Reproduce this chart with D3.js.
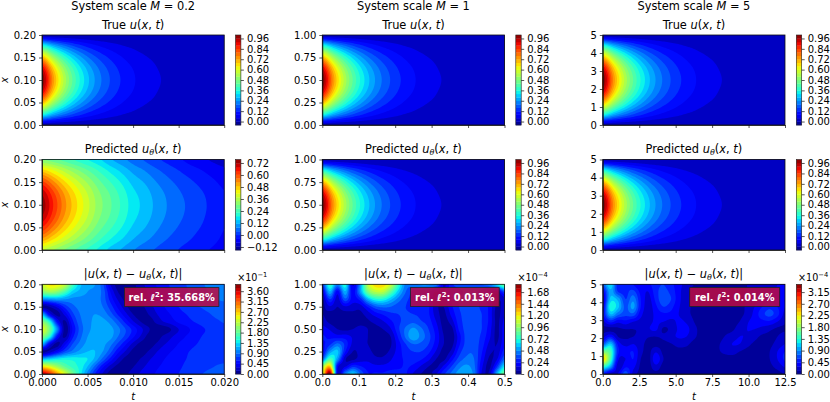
<!DOCTYPE html>
<html>
<head>
<meta charset="utf-8">
<script src="https://cdnjs.cloudflare.com/ajax/libs/d3/7.8.5/d3.min.js"></script>
<style>
body { margin: 0; background: #fff; }
text { font-family: "DejaVu Sans", sans-serif; fill: #000; }
</style>
</head>
<body>
<div id="chart"></div>
<script>
// values, rows run from the top of a panel (x max) to the bottom (x = 0),
// columns from t = 0 to t max
const trueGrid = [
  [0,0,0,0,0,0,0,0,0,0,0,0,0,0,0,0,0],
  [.383,.281,.207,.152,.112,.082,.061,.044,.033,.024,.018,.013,.01,.007,.005,.004,.003],
  [.707,.52,.382,.281,.206,.151,.112,.082,.06,.044,.033,.024,.018,.013,.009,.007,.005],
  [.924,.679,.499,.367,.27,.198,.146,.107,.079,.058,.042,.031,.023,.017,.012,.009,.007],
  [1,.735,.54,.397,.292,.214,.158,.116,.085,.063,.046,.034,.025,.018,.013,.01,.007],
  [.924,.679,.499,.367,.27,.198,.146,.107,.079,.058,.042,.031,.023,.017,.012,.009,.007],
  [.707,.52,.382,.281,.206,.151,.112,.082,.06,.044,.033,.024,.018,.013,.009,.007,.005],
  [.383,.281,.207,.152,.112,.082,.061,.044,.033,.024,.018,.013,.01,.007,.005,.004,.003],
  [0,0,0,0,0,0,0,0,0,0,0,0,0,0,0,0,0]
];
const predGrid = [
  [.30,.28,.25,.22,.19,.16,.12,.09,.06,.035,.01,-.01,-.03,-.05,-.065,-.08,-.09],
  [.476,.424,.366,.316,.27,.224,.18,.142,.104,.077,.048,.024,.002,-.018,-.035,-.052,-.066],
  [.617,.539,.459,.393,.334,.275,.228,.184,.139,.111,.078,.051,.028,.008,-.011,-.03,-.047],
  [.709,.615,.52,.443,.376,.309,.26,.211,.162,.133,.098,.069,.044,.024,.005,-.015,-.034],
  [.74,.64,.54,.46,.39,.32,.27,.22,.17,.14,.105,.075,.05,.03,.01,-.01,-.03],
  [.715,.619,.523,.446,.378,.31,.261,.212,.164,.134,.1,.071,.047,.027,.007,-.012,-.031],
  [.639,.556,.473,.404,.342,.281,.234,.189,.145,.116,.085,.058,.036,.017,-.001,-.018,-.036],
  [.524,.46,.396,.34,.288,.236,.192,.154,.116,.089,.063,.039,.02,.003,-.014,-.028,-.042],
  [.38,.34,.30,.26,.22,.18,.14,.11,.08,.055,.035,.015,0,-.015,-.03,-.04,-.05]
];
// error grids are in units of the colorbar offset (1e-1 and 1e-4)
const errGridA = [
  [2.3,2.6,2.55,2.3,1.7,1.25,1.1,1.05,.8,.3,.08,.05,.1,.25,.35,.45,.55,.62,.7,.75,.82,.88,.93,.97,1.0],
  [2.0,2.1,2.0,1.7,1.3,1.15,1.05,1.0,.85,.45,.15,.05,.1,.2,.32,.42,.5,.6,.67,.73,.8,.85,.9,.93,.97],
  [1.0,1.05,1.1,1.05,1.0,1.0,1.0,.98,.85,.55,.28,.1,.05,.15,.28,.38,.48,.57,.64,.7,.76,.82,.86,.9,.92],
  [.08,.15,.35,.65,.85,.95,1.0,1.0,.9,.68,.42,.2,.05,.1,.22,.34,.44,.52,.6,.66,.72,.76,.8,.83,.85],
  [1.2,.4,.1,.35,.7,.9,1.0,1.05,1.0,.82,.58,.35,.15,.05,.15,.28,.38,.46,.55,.6,.66,.7,.74,.78,.8],
  [2.0,1.5,.5,.12,.55,.85,1.0,1.08,1.1,1.0,.8,.55,.32,.15,.06,.18,.3,.38,.48,.54,.6,.65,.7,.73,.76],
  [2.4,1.9,1.0,.08,.45,.8,1.0,1.1,1.15,1.1,.95,.75,.55,.35,.18,.05,.05,.15,.3,.4,.5,.57,.63,.68,.72],
  [2.0,1.5,.5,.12,.55,.85,1.05,1.12,1.15,1.1,.9,.7,.48,.28,.1,.06,.18,.28,.38,.46,.54,.6,.65,.7,.73],
  [1.2,.4,.1,.4,.75,.95,1.1,1.15,1.1,.95,.72,.48,.25,.1,.06,.16,.28,.36,.46,.52,.58,.63,.68,.72,.74],
  [.08,.2,.45,.75,.95,1.1,1.2,1.2,1.05,.8,.5,.28,.1,.06,.16,.28,.38,.45,.52,.58,.63,.67,.7,.72,.74],
  [1.2,1.3,1.4,1.45,1.45,1.4,1.35,1.15,.85,.55,.28,.1,.07,.16,.27,.36,.44,.5,.56,.6,.64,.67,.7,.72,.72],
  [2.6,2.4,2.1,1.8,1.6,1.45,1.2,.85,.5,.25,.1,.06,.14,.25,.34,.42,.48,.54,.58,.62,.65,.68,.72,.76,.78],
  [3.7,3.4,2.9,2.4,1.9,1.45,1.0,.6,.28,.08,.05,.12,.22,.32,.4,.46,.52,.56,.6,.64,.68,.74,.8,.85,.85]
];
const errGridB = [
  [.3,.75,.45,.7,.15,.5,1.05,1.25,1.25,1.1,.75,.45,.45,.5,.5,.45,.15,.3,.35,.35,.35,.4,.45,.65,.9],
  [.15,.55,.2,.55,.2,.5,.9,1.05,1.05,.85,.6,.4,.3,.28,.25,.15,.15,.25,.3,.33,.33,.3,.2,.12,.35],
  [.05,.32,.12,.38,.2,.28,.55,.7,.7,.58,.45,.34,.3,.3,.25,.12,.12,.25,.32,.35,.35,.3,.2,.08,.12],
  [.05,.15,.08,.15,.12,.12,.25,.38,.42,.4,.35,.32,.3,.3,.25,.1,.08,.22,.32,.35,.35,.3,.22,.06,.12],
  [.08,.05,.05,.05,.06,.06,.12,.2,.25,.3,.32,.33,.32,.3,.25,.12,.06,.18,.3,.35,.35,.32,.22,.05,.15],
  [.12,.06,.03,.03,.05,.06,.07,.1,.15,.22,.3,.35,.38,.33,.28,.16,.05,.12,.28,.35,.35,.32,.22,.06,.18],
  [.2,.15,.08,.06,.08,.1,.08,.06,.08,.15,.3,.42,.5,.42,.32,.2,.06,.05,.25,.35,.36,.32,.2,.06,.2],
  [.25,.22,.2,.2,.15,.12,.08,.05,.04,.08,.25,.42,.55,.45,.35,.22,.08,.03,.2,.35,.36,.3,.18,.06,.2],
  [.22,.3,.42,.3,.14,.1,.08,.05,.03,.07,.2,.32,.4,.38,.32,.2,.08,.05,.22,.35,.36,.28,.14,.08,.22],
  [.2,.5,.58,.25,.08,.1,.1,.06,.05,.1,.2,.28,.32,.32,.26,.15,.05,.1,.28,.38,.38,.25,.1,.1,.28],
  [.4,.8,.5,.1,.06,.12,.14,.1,.1,.15,.22,.25,.28,.25,.18,.08,.06,.2,.35,.42,.4,.22,.07,.15,.4],
  [1.0,1.3,.2,.15,.3,.25,.2,.18,.18,.2,.22,.25,.22,.15,.08,.06,.18,.32,.45,.5,.42,.18,.06,.3,.65],
  [1.1,1.85,.15,.45,.6,.4,.25,.25,.25,.28,.28,.25,.15,.08,.05,.15,.3,.42,.52,.55,.45,.15,.1,.55,.9]
];
const errGridC = [
  [.7,1.2,.5,.6,.45,.3,.4,.55,.6,.5,.35,.25,.15,.12,.12,.12,.1,.1,.1,.15,.2,.2,.25,.3,.35],
  [.35,1.0,.6,.55,.65,.4,.3,.55,.65,.55,.35,.2,.1,.1,.08,.1,.1,.1,.12,.15,.2,.25,.3,.32,.35],
  [.2,1.1,1.0,.6,.85,.45,.25,.5,.72,.6,.35,.2,.12,.08,.08,.08,.08,.08,.1,.15,.22,.35,.4,.35,.3],
  [.3,1.3,1.1,.7,.95,.45,.22,.42,.6,.5,.32,.2,.12,.08,.08,.08,.08,.08,.1,.18,.3,.45,.55,.45,.3],
  [.4,1.05,.8,.65,.7,.35,.22,.35,.42,.4,.3,.2,.12,.08,.08,.08,.08,.08,.1,.2,.35,.55,.65,.5,.25],
  [.25,.5,.35,.4,.3,.25,.25,.33,.3,.25,.33,.28,.15,.08,.08,.08,.08,.1,.15,.28,.35,.4,.42,.3,.18],
  [.1,.1,.12,.15,.15,.18,.28,.33,.12,.2,.32,.35,.2,.1,.08,.08,.1,.12,.22,.3,.3,.25,.18,.12,.12],
  [.25,.45,.15,.12,.15,.2,.16,.15,.18,.25,.32,.3,.18,.1,.08,.08,.15,.22,.3,.28,.2,.12,.12,.15,.25],
  [.7,1.1,.42,.25,.3,.2,.1,.1,.1,.14,.2,.18,.1,.08,.08,.12,.2,.3,.3,.2,.12,.1,.12,.2,.3],
  [1.7,1.5,.5,.4,.45,.2,.1,.28,.1,.08,.1,.1,.08,.08,.08,.12,.18,.22,.15,.1,.08,.1,.15,.3,.45],
  [2.4,1.5,.35,.3,.45,.15,.08,.42,.15,.08,.08,.08,.08,.08,.08,.08,.08,.08,.08,.08,.08,.1,.15,.3,.48],
  [1.4,1.0,.2,.42,.35,.12,.08,.25,.08,.08,.08,.08,.08,.08,.08,.08,.08,.08,.08,.08,.08,.1,.12,.2,.32],
  [.5,.2,.3,.7,.25,.1,.08,.1,.08,.08,.08,.08,.08,.08,.08,.08,.08,.08,.08,.08,.08,.08,.08,.1,.15]
];

// axis ranges and tick labels
const scales = ["0.2", "1", "5"];
const xMax = [0.2, 1, 5];
const tMax = [0.02, 0.5, 12.5];
const xTicks = [[0, .05, .1, .15, .2], [0, .25, .5, .75, 1], [0, 1, 2, 3, 4, 5]];
const tTicks = [[0, .005, .01, .015, .02], [0, .1, .2, .3, .4, .5], [0, 2.5, 5, 7.5, 10, 12.5]];
const xFormats = [".2f", ".2f", ".0f"];
const tFormats = [".3f", ".1f", ".1f"];

// contour levels [low, high, step] and colorbar ticks
const trueLevels = [-.04, 1.0, .04];
const trueTicks = [0, .12, .24, .36, .48, .6, .72, .84, .96];
const predLevels = [-.15, .755, .0377];
const predTicks = [-.12, 0, .12, .24, .36, .48, .6, .72];
const errLevelsA = [0, 3.9, .15];
const errTicksA = [0, .45, .9, 1.35, 1.8, 2.25, 2.7, 3.15, 3.6];
const errLevelsB = [0, 1.84, .08];
const errTicksB = [0, .24, .48, .72, .96, 1.2, 1.44, 1.68];
const errLevelsC = [0, 3.45, .15];
const errTicksC = [0, .45, .9, 1.35, 1.8, 2.25, 2.7, 3.15];
const errExp = ["1", "4", "4"];
const relErr = ["35.668%", "0.013%", "0.014%"];

const cols = [42, 322.3, 602.8];
const rows = [[35, 125], [159.5, 250], [284.3, 374]];
const plotW = 182.2;

const svg = d3.select("#chart").append("svg").attr("width", 830).attr("height", 402);
const defs = svg.append("defs");

// matplotlib's jet
const jetR = d3.scaleLinear().domain([0, .35, .66, .89, 1]).range([0, 0, 1, 1, .5]).clamp(true);
const jetG = d3.scaleLinear().domain([0, .125, .375, .64, .91, 1]).range([0, 0, 1, 1, 0, 0]).clamp(true);
const jetB = d3.scaleLinear().domain([0, .11, .34, .65, 1]).range([.5, 1, 1, 0, 0]).clamp(true);
function jet(f) {
  return d3.rgb(jetR(f) * 255, jetG(f) * 255, jetB(f) * 255).formatRgb();
}

function catmull(p0, p1, p2, p3, s) {
  return p1 + .5 * s * (p2 - p0 + s * (2 * p0 - 5 * p1 + 4 * p2 - p3 + s * (3 * (p1 - p2) + p3 - p0)));
}

// the grids are coarse, so smooth them before they go to d3.contours
function refine(grid, k) {
  const ny = grid.length, nx = grid[0].length;
  const w = (nx - 1) * k + 1, h = (ny - 1) * k + 1;
  const out = new Float64Array(w * h);
  const at = (j, i) => grid[Math.max(0, Math.min(ny - 1, j))][Math.max(0, Math.min(nx - 1, i))];
  for (let b = 0; b < h; b++) {
    const j = Math.min(Math.floor(b / k), ny - 2), sy = b / k - j;
    for (let a = 0; a < w; a++) {
      const i = Math.min(Math.floor(a / k), nx - 2), sx = a / k - i;
      const c = [-1, 0, 1, 2].map(d => catmull(at(j + d, i - 1), at(j + d, i), at(j + d, i + 1), at(j + d, i + 2), sx));
      out[b * w + a] = catmull(c[0], c[1], c[2], c[3], sy);
    }
  }
  return { values: out, w, h };
}

function mathText(sel, parts) {
  parts.forEach(p => {
    const t = sel.append("tspan").text(p.s);
    if (p.i) t.attr("font-style", "italic");
    if (p.sub) t.attr("font-size", "70%").attr("dy", 2);
    if (p.sup) t.attr("font-size", "70%").attr("dy", -4);
    if (p.back) t.attr("dy", p.back);
  });
}

const u = [{ s: "u", i: 1 }, { s: "(" }, { s: "x", i: 1 }, { s: ", " }, { s: "t", i: 1 }, { s: ")" }];
const uTheta = [{ s: "u", i: 1 }, { s: "θ", i: 1, sub: 1 }, { s: "(", back: -2 }, { s: "x", i: 1 }, { s: ", " }, { s: "t", i: 1 }, { s: ")" }];
const titleTrue = [{ s: "True " }].concat(u);
const titlePred = [{ s: "Predicted " }].concat(uTheta);
const titleErr = [{ s: "|" }].concat(u, [{ s: " − " }], uTheta, [{ s: "|" }]);

function styleAxis(g) {
  g.attr("font-family", null).attr("font-size", null);
  g.selectAll("path").attr("stroke", "#111").attr("stroke-width", .8);
  g.selectAll("line").attr("stroke", "#111").attr("stroke-width", .7);
  g.selectAll("text").attr("font-size", 10);
}

function panel(c, r, grid, levelSpec, barTicks, title, barFormat) {
  const left = cols[c], right = left + plotW, top = rows[r][0], bottom = rows[r][1];
  const levels = d3.range(levelSpec[0], levelSpec[1] + levelSpec[2] / 2, levelSpec[2]);
  const colorOf = i => jet(((levels[i] + levels[i + 1]) / 2 - levels[0]) / (levels[levels.length - 1] - levels[0]));

  const x = d3.scaleLinear().domain([0, xMax[c]]).range([bottom, top]);
  const t = d3.scaleLinear().domain([0, tMax[c]]).range([left, right]);

  const clipId = "clip" + c + r;
  defs.append("clipPath").attr("id", clipId).append("rect")
    .attr("x", left).attr("y", top).attr("width", plotW).attr("height", bottom - top);

  const fine = refine(grid, 8);
  const gx = d3.scaleLinear().domain([.5, fine.w - .5]).range([left, right]);
  const gy = d3.scaleLinear().domain([.5, fine.h - .5]).range([top, bottom]);
  const path = d3.geoPath(d3.geoTransform({
    point(a, b) { this.stream.point(gx(a), gy(b)); }
  }));
  const bands = d3.contours().size([fine.w, fine.h]).thresholds(levels.slice(0, -1))(fine.values);

  const plot = svg.append("g").attr("clip-path", "url(#" + clipId + ")");
  plot.append("rect").attr("x", left).attr("y", top).attr("width", plotW).attr("height", bottom - top)
    .attr("fill", colorOf(0));
  plot.selectAll("path").data(bands).enter().append("path")
    .attr("d", path)
    .attr("fill", (d, i) => colorOf(i));

  // axes
  const ax = svg.append("g").attr("transform", "translate(" + left + ",0)")
    .call(d3.axisLeft(x).tickValues(xTicks[c]).tickFormat(d3.format(xFormats[c])).tickSize(3).tickPadding(3).tickSizeOuter(0));
  styleAxis(ax);
  const at = svg.append("g").attr("transform", "translate(0," + bottom + ")")
    .call(d3.axisBottom(t).tickValues(tTicks[c]).tickFormat(r == 2 ? d3.format(tFormats[c]) : "").tickSize(3).tickPadding(2).tickSizeOuter(0));
  styleAxis(at);
  svg.append("rect").attr("x", left).attr("y", top).attr("width", plotW).attr("height", bottom - top)
    .attr("fill", "none").attr("stroke", "#111").attr("stroke-width", .8);

  const tt = svg.append("text").attr("x", left + plotW / 2).attr("y", top - 6.5)
    .attr("text-anchor", "middle").attr("font-size", 11.4);
  mathText(tt, title);

  if (r == 2) {
    svg.append("text").attr("x", left + plotW / 2).attr("y", 400).attr("text-anchor", "middle")
      .attr("font-size", 10).attr("font-style", "italic").text("t");
  }
  if (c == 0) {
    svg.append("text").attr("transform", "translate(8," + (top + bottom) / 2 + ") rotate(-90)")
      .attr("text-anchor", "middle").attr("font-size", 10).attr("font-style", "italic").text("x");
  }

  // colorbar
  const barX = right + 11.3, barW = 5.4;
  const bar = d3.scaleLinear().domain([levels[0], levels[levels.length - 1]]).range([bottom, top]);
  svg.append("g").selectAll("rect").data(levels.slice(0, -1)).enter().append("rect")
    .attr("x", barX).attr("width", barW)
    .attr("y", (d, i) => bar(levels[i + 1]))
    .attr("height", (d, i) => bar(levels[i]) - bar(levels[i + 1]) + .3)
    .attr("fill", (d, i) => colorOf(i));
  const ab = svg.append("g").attr("transform", "translate(" + (barX + barW) + ",0)")
    .call(d3.axisRight(bar).tickValues(barTicks).tickFormat(d3.format(barFormat)).tickSize(3).tickPadding(3).tickSizeOuter(0));
  styleAxis(ab);
  ab.select("path").remove();
  svg.append("rect").attr("x", barX).attr("y", top).attr("width", barW).attr("height", bottom - top)
    .attr("fill", "none").attr("stroke", "#222").attr("stroke-width", .6);
}

scales.forEach((m, c) => {
  const head = svg.append("text").attr("x", cols[c] + plotW / 2).attr("y", 9.5)
    .attr("text-anchor", "middle").attr("font-size", 11.4);
  mathText(head, [{ s: "System scale " }, { s: "M", i: 1 }, { s: " = " + m }]);
});

panel(0, 0, trueGrid, trueLevels, trueTicks, titleTrue, ".2f");
panel(1, 0, trueGrid, trueLevels, trueTicks, titleTrue, ".2f");
panel(2, 0, trueGrid, trueLevels, trueTicks, titleTrue, ".2f");
panel(0, 1, predGrid, predLevels, predTicks, titlePred, ".2f");
panel(1, 1, trueGrid, trueLevels, trueTicks, titlePred, ".2f");
panel(2, 1, trueGrid, trueLevels, trueTicks, titlePred, ".2f");
panel(0, 2, errGridA, errLevelsA, errTicksA, titleErr, ".2f");
panel(1, 2, errGridB, errLevelsB, errTicksB, titleErr, ".2f");
panel(2, 2, errGridC, errLevelsC, errTicksC, titleErr, ".2f");

// colorbar offset text and the rel. error boxes on the bottom row
const boxW = [94.5, 88.7, 90];
cols.forEach((left, c) => {
  const ox = svg.append("text").attr("x", left + plotW + 13).attr("y", 281).attr("font-size", 9.6);
  mathText(ox, [{ s: "×10" }, { s: "−" + errExp[c], sup: 1 }]);

  const bx = left + plotW - 5.3 - boxW[c];
  svg.append("rect").attr("x", bx).attr("y", 287.6).attr("width", boxW[c]).attr("height", 18.8)
    .attr("fill", "#c00c40").attr("fill-opacity", .85).attr("stroke", "#222").attr("stroke-width", .8);
  const lab = svg.append("text").attr("x", bx + boxW[c] / 2).attr("y", 300.8).attr("text-anchor", "middle")
    .attr("font-size", 9.8).attr("font-weight", "bold").style("fill", "#fff");
  mathText(lab, [{ s: "rel. " }, { s: "ℓ", i: 1 }, { s: "2", sup: 1 }, { s: ": " + relErr[c], back: 4 }]);
});
</script>
</body>
</html>
